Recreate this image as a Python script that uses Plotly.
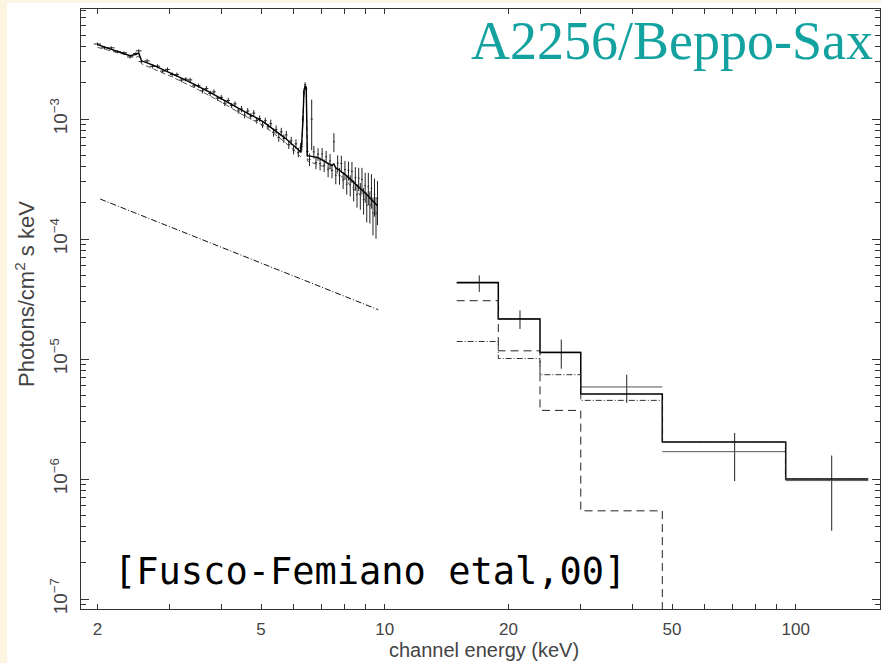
import plotly.graph_objects as go

# ---------------- MECS (2-10 keV) ----------------
mecs_energy = [2.00, 2.08, 2.16, 2.24, 2.32, 2.40, 2.48, 2.52, 2.56, 2.64, 2.72, 2.80, 2.88, 2.96,
               3.04, 3.12, 3.20, 3.28, 3.36, 3.44, 3.52, 3.60, 3.68, 3.76, 3.84, 3.92, 4.00, 4.08,
               4.16, 4.24, 4.32, 4.40, 4.48, 4.56, 4.64, 4.72, 4.80, 4.88, 4.96, 5.04, 5.12, 5.20,
               5.28, 5.36, 5.44, 5.52, 5.60, 5.68, 5.76, 5.84, 5.92, 6.00, 6.08, 6.16, 6.24, 6.28,
               6.32, 6.36, 6.40, 6.44, 6.48, 6.56, 6.64, 6.72, 6.80, 6.88, 6.96, 7.04, 7.12, 7.20,
               7.28, 7.36, 7.44, 7.52, 7.60, 7.68, 7.76, 7.84, 7.92, 8.00, 8.08, 8.16, 8.24, 8.32,
               8.40, 8.48, 8.56, 8.64, 8.72, 8.80, 8.88, 8.96, 9.04, 9.12, 9.20, 9.28, 9.36, 9.44,
               9.52, 9.60]
mecs_model_log10 = [-2.380, -2.399, -2.417, -2.436, -2.455, -2.473, -2.462, -2.450, -2.515, -2.530,
                    -2.549, -2.568, -2.586, -2.605, -2.624, -2.642, -2.660, -2.677, -2.694, -2.711,
                    -2.728, -2.745, -2.762, -2.779, -2.796, -2.813, -2.830, -2.847, -2.864, -2.881,
                    -2.898, -2.915, -2.929, -2.942, -2.954, -2.967, -2.979, -2.992, -3.004, -3.020,
                    -3.037, -3.053, -3.069, -3.086, -3.102, -3.118, -3.135, -3.151, -3.167, -3.184,
                    -3.200, -3.219, -3.237, -3.256, -3.274, -3.200, -3.020, -2.760, -2.725, -2.735,
                    -3.305, -3.307, -3.310, -3.314, -3.318, -3.323, -3.332, -3.341, -3.351, -3.360,
                    -3.370, -3.379, -3.389, -3.375, -3.408, -3.417, -3.427, -3.436, -3.448, -3.461,
                    -3.474, -3.487, -3.499, -3.512, -3.525, -3.538, -3.551, -3.563, -3.576, -3.589,
                    -3.602, -3.616, -3.629, -3.643, -3.656, -3.670, -3.683, -3.697, -3.710, -3.723]
mecs_data_log10 = [-2.375, -2.407, -2.407, -2.440, -2.449, -2.483, -2.455, -2.432, -2.521, -2.516,
                   -2.561, -2.560, -2.601, -2.587, -2.629, -2.630, -2.676, -2.668, -2.674, -2.723,
                   -2.722, -2.765, -2.747, -2.787, -2.774, -2.827, -2.820, -2.869, -2.846, -2.887,
                   -2.874, -2.933, -2.917, -2.968, -2.934, -2.977, -2.951, -3.012, -2.996, -3.050,
                   -3.015, -3.065, -3.039, -3.111, -3.087, -3.153, -3.107, -3.163, -3.133, -3.214,
                   -3.182, -3.259, -3.207, -3.278, -3.238, -3.230, -3.000, -2.780, -2.715, -2.750,
                   -3.270, -3.337, -3.000, -3.274, -3.363, -3.293, -3.372, -3.291, -3.386, -3.315,
                   -3.420, -3.349, -3.429, -3.190, -3.468, -3.367, -3.472, -3.371, -3.508, -3.421,
                   -3.544, -3.427, -3.549, -3.437, -3.590, -3.488, -3.631, -3.493, -3.631, -3.504,
                   -3.672, -3.556, -3.719, -3.563, -3.716, -3.580, -3.783, -3.627, -3.790, -3.663]
mecs_err_frac = [0.03, 0.03, 0.03, 0.03, 0.03, 0.03, 0.03, 0.03, 0.03, 0.04,
                 0.04, 0.04, 0.04, 0.04, 0.04, 0.04, 0.04, 0.04, 0.04, 0.04,
                 0.04, 0.05, 0.05, 0.05, 0.05, 0.05, 0.05, 0.05, 0.05, 0.05,
                 0.05, 0.05, 0.06, 0.06, 0.06, 0.06, 0.06, 0.06, 0.06, 0.06,
                 0.06, 0.06, 0.08, 0.08, 0.08, 0.08, 0.08, 0.08, 0.08, 0.08,
                 0.08, 0.08, 0.09, 0.09, 0.09, 0.09, 0.07, 0.05, 0.05, 0.05,
                 0.10, 0.12, 0.45, 0.12, 0.12, 0.12, 0.12, 0.12, 0.12, 0.12,
                 0.14, 0.14, 0.14, 0.18, 0.16, 0.16, 0.16, 0.16, 0.16, 0.18,
                 0.18, 0.18, 0.20, 0.20, 0.20, 0.22, 0.22, 0.22, 0.25, 0.25,
                 0.25, 0.28, 0.28, 0.30, 0.30, 0.32, 0.35, 0.35, 0.38, 0.40]
mecs_bin_halfwidth = 0.04

mecs_thermal_energy = [2.00, 2.48, 2.52, 2.56, 3.04, 3.52, 4.00, 4.48, 5.04, 5.52, 6.00, 6.24,
                       6.28, 6.32, 6.36, 6.40, 6.44, 6.48, 7.04, 7.52, 8.00, 8.48, 9.04, 9.60]
mecs_thermal_log10 = [-2.403, -2.487, -2.475, -2.540, -2.650, -2.756, -2.859, -2.959, -3.050,
                      -3.151, -3.256, -3.314, -3.236, -3.045, -2.778, -2.742, -2.752, -3.350,
                      -3.390, -3.425, -3.505, -3.592, -3.688, -3.787]

mecs_nonthermal_energy = [2.03, 9.64]
mecs_nonthermal_log10 = [-3.667, -4.589]

# ---------------- PDS (15-150 keV) ----------------
pds_edges = [14.96, 18.89, 23.86, 29.98, 47.34, 94.5, 150.1]
pds_energy = [16.98, 21.33, 26.88, 38.79, 71.0, 122.3]
pds_flux = [4.3e-5, 2.16e-5, 1.14e-5, 5.85e-6, 1.69e-6, 0.97e-6]
pds_err = [0.68e-5, 0.38e-5, 0.31e-5, 1.55e-6, 0.73e-6, 0.60e-6]
pds_model_total = [4.35e-5, 2.15e-5, 1.135e-5, 5.11e-6, 2.03e-6, 1.00e-6]
pds_model_thermal = [3.06e-5, 1.17e-5, 3.73e-6, 5.43e-7, 1e-9]
pds_model_nonthermal = [1.40e-5, 1.01e-5, 7.40e-6, 4.52e-6, 2.03e-6, 1.00e-6]

x_tick_vals = [2, 5, 10, 20, 50, 100]
x_tick_text = ["2", "5", "10", "20", "50", "100"]
y_tick_vals = [1e-7, 1e-6, 1e-5, 1e-4, 1e-3]
y_tick_text = ["10<sup>\u2212" + str(k) + "</sup>" for k in (7, 6, 5, 4, 3)]

title_text = "A2256/Beppo-Sax"
ref_text = "[Fusco-Femiano etal,00]"
x_title = "channel energy (keV)"
y_title = "Photons/cm<sup>2</sup> s keV"

# ---------------- figure ----------------
INK = "#222222"
AX = "#333333"

mecs_flux = [10 ** v for v in mecs_data_log10]
mecs_err = [f * e for f, e in zip(mecs_flux, mecs_err_frac)]

fig = go.Figure()

fig.add_trace(go.Scatter(
    x=mecs_energy, y=mecs_flux, mode="markers",
    marker=dict(size=1, color="rgba(0,0,0,0)"),
    error_y=dict(type="data", array=mecs_err, visible=True, width=0, thickness=1, color=INK),
    error_x=dict(type="constant", value=mecs_bin_halfwidth, visible=True, width=0, thickness=1, color=INK),
    showlegend=False, hoverinfo="skip"))

fig.add_trace(go.Scatter(
    x=mecs_thermal_energy, y=[10 ** v for v in mecs_thermal_log10], mode="lines",
    line=dict(color="#555555", width=1, dash="5px,3px"), showlegend=False, hoverinfo="skip"))

fig.add_trace(go.Scatter(
    x=mecs_energy, y=[10 ** v for v in mecs_model_log10], mode="lines",
    line=dict(color="#000000", width=1.4), showlegend=False, hoverinfo="skip"))

fig.add_trace(go.Scatter(
    x=mecs_nonthermal_energy, y=[10 ** v for v in mecs_nonthermal_log10], mode="lines",
    line=dict(color="#111111", width=1, dash="6px,2px,1px,2px"), showlegend=False, hoverinfo="skip"))

# PDS data crosses
fig.add_trace(go.Scatter(
    x=pds_energy, y=pds_flux, mode="markers",
    marker=dict(size=1, color="rgba(0,0,0,0)"),
    error_y=dict(type="data", array=pds_err, visible=True, width=0, thickness=1, color=INK),
    error_x=dict(type="data", symmetric=False,
                 array=[hi - c for hi, c in zip(pds_edges[1:], pds_energy)],
                 arrayminus=[c - lo for lo, c in zip(pds_edges[:-1], pds_energy)],
                 visible=True, width=0, thickness=1, color="#555555"),
    showlegend=False, hoverinfo="skip"))

# PDS model steps
fig.add_trace(go.Scatter(
    x=pds_edges, y=pds_model_total + [pds_model_total[-1]], mode="lines", line_shape="hv",
    line=dict(color="#000000", width=1.5), showlegend=False, hoverinfo="skip"))
fig.add_trace(go.Scatter(
    x=pds_edges[:len(pds_model_thermal) + 1], y=pds_model_thermal + [pds_model_thermal[-1]],
    mode="lines", line_shape="hv",
    line=dict(color="#222222", width=1, dash="8px,5px"), showlegend=False, hoverinfo="skip"))
fig.add_trace(go.Scatter(
    x=pds_edges, y=pds_model_nonthermal + [pds_model_nonthermal[-1]], mode="lines", line_shape="hv",
    line=dict(color="#333333", width=1, dash="6px,2px,1px,2px"), showlegend=False, hoverinfo="skip"))

x_minor = [m * 10 ** k for k in (0, 1, 2) for m in range(2, 10)]
y_minor = [m * 10.0 ** k for k in range(-8, -2) for m in range(2, 10)]

W, H = 881, 663
L, R, T, B = 81, 1, 9, 54
pw, ph = W - L - R, H - T - B

def px(xp):
    return (xp - L) / pw

def py(yp):
    return (H - B - yp) / ph

fig.update_layout(
    width=W, height=H,
    margin=dict(l=L, r=R, t=T, b=B, pad=0),
    paper_bgcolor="#fdf5e1", plot_bgcolor="#ffffff",
    font=dict(family="Liberation Sans, Arial, sans-serif", color="#444444"),
    xaxis=dict(type="log", range=[0.26088, 2.20492], showline=True, linecolor=AX, linewidth=1,
               mirror="ticks", ticks="inside", ticklen=5, tickwidth=1, tickcolor=AX,
               tickvals=x_tick_vals, ticktext=x_tick_text, showgrid=False, zeroline=False,
               tickfont=dict(size=17, color="#444444"), ticklabelstandoff=5,
               minor=dict(tickvals=x_minor, ticks="inside", ticklen=5, tickwidth=1, tickcolor=AX,
                          showgrid=False)),
    xaxis2=dict(type="log", range=[0.26088, 2.20492], overlaying="x", anchor="y", side="bottom",
                showline=False, mirror="ticks", ticks="inside", ticklen=9, tickwidth=1, tickcolor=AX,
                tickvals=[10, 100], showticklabels=False, showgrid=False, zeroline=False),
    yaxis=dict(type="log", range=[-7.0833, -2.0833], showline=True, linecolor=AX, linewidth=1,
               mirror="ticks", ticks="inside", ticklen=8, tickwidth=1, tickcolor=AX,
               tickvals=y_tick_vals, ticktext=y_tick_text, tickangle=-90, showgrid=False,
               zeroline=False, tickfont=dict(size=19, color="#444444"), ticklabelstandoff=5,
               minor=dict(tickvals=y_minor, ticks="inside", ticklen=5, tickwidth=1, tickcolor=AX,
                          showgrid=False)),
    shapes=[dict(type="rect", xref="paper", yref="paper", x0=px(7), x1=px(W + 5), y0=py(3), y1=py(H + 5),
                 fillcolor="#ffffff", line=dict(width=0), layer="below")],
    annotations=[
        dict(text=title_text, xref="paper", yref="paper", x=px(875), y=py(41), xanchor="right",
             yanchor="middle", showarrow=False,
             font=dict(family="Liberation Serif, Times New Roman, serif", size=54, color="#13a2a0")),
        dict(text=ref_text, xref="paper", yref="paper", x=px(112), y=py(571), xanchor="left",
             yanchor="middle", showarrow=False,
             font=dict(family="DejaVu Sans Mono, monospace", size=37, color="#000000")),
        dict(text=x_title, xref="paper", yref="paper", x=px(484), y=py(650), xanchor="center",
             yanchor="middle", showarrow=False, font=dict(size=20, color="#444444")),
        dict(text=y_title, xref="paper", yref="paper", x=px(25), y=py(294), xanchor="center",
             yanchor="middle", showarrow=False, textangle=-90, font=dict(size=22, color="#444444")),
    ],
)

fig.write_html("out.html")
